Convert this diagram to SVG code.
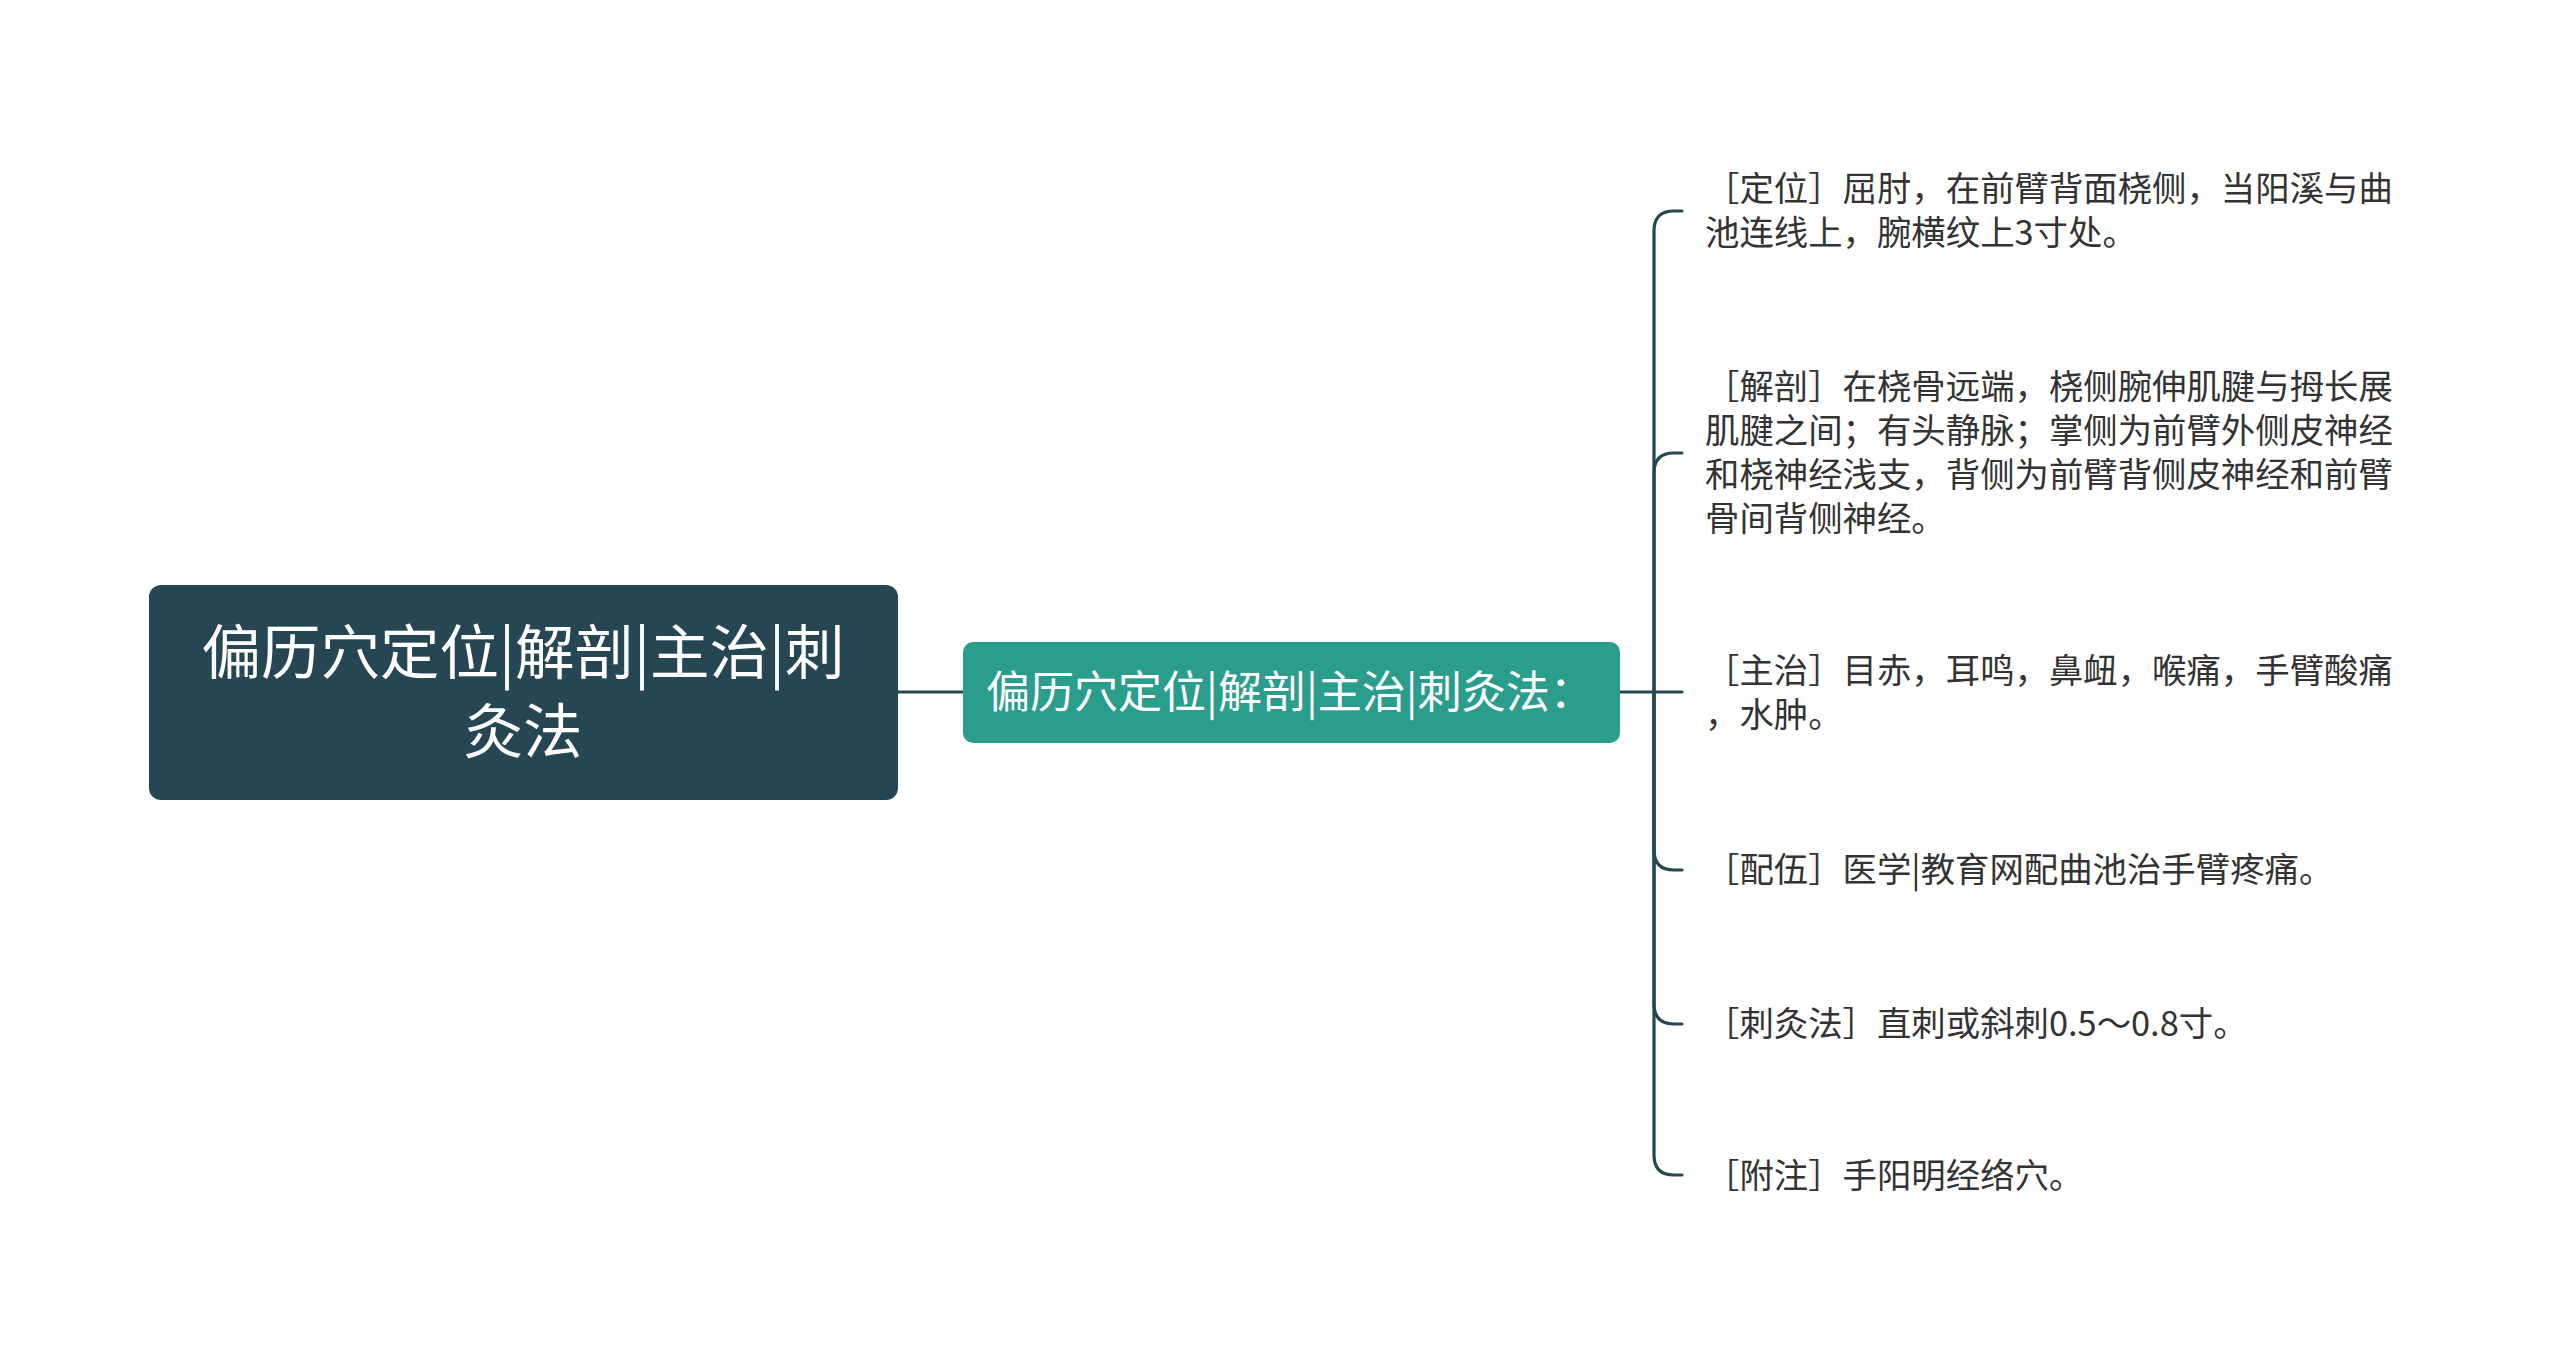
<svg xmlns="http://www.w3.org/2000/svg" width="2560" height="1363" viewBox="0 0 2560 1363">
<style>
.cjk{font-family:"Noto Sans CJK SC","Noto Sans",sans-serif;}
.root-box{fill:#274653;}
.mid-box{fill:#2a9d8c;}
.wt{fill:#ffffff;}
.item{fill:#333333;font-size:34.4px;}
.conn{fill:none;stroke:#274653;stroke-width:3.2;stroke-linecap:round;}
</style>
<rect width="2560" height="1363" fill="#ffffff"/>
<g id="connectors">
<path class="conn" d="M898,692 H963"/>
<path class="conn" d="M1620,692 H1654"/>
<path class="conn" d="M1654,692 V231 Q1654,211 1674,211 H1682"/>
<path class="conn" d="M1654,692 V473 Q1654,453 1674,453 H1682"/>
<path class="conn" d="M1654,692 H1682"/>
<path class="conn" d="M1654,692 V850 Q1654,870 1674,870 H1682"/>
<path class="conn" d="M1654,692 V1004 Q1654,1024 1674,1024 H1682"/>
<path class="conn" d="M1654,692 V1155 Q1654,1175 1674,1175 H1682"/>
</g>
<g id="root">
<rect class="root-box" x="149" y="585" width="749" height="215" rx="12"/>
<text class="cjk wt" font-size="59.5" text-anchor="middle"><tspan x="523" y="674">偏历穴定位|解剖|主治|刺</tspan><tspan x="523" y="753">灸法</tspan></text>
</g>
<g id="mid">
<rect class="mid-box" x="963" y="642" width="657" height="101" rx="10"/>
<text class="cjk wt" font-size="44" x="986" y="708">偏历穴定位|解剖|主治|刺灸法：</text>
</g>
<g id="item1">
<text class="cjk item"><tspan x="1705" y="201">［定位］屈肘，在前臂背面桡侧，当阳溪与曲</tspan><tspan x="1705" y="245">池连线上，腕横纹上3寸处。</tspan></text>
</g>
<g id="item2">
<text class="cjk item"><tspan x="1705" y="399">［解剖］在桡骨远端，桡侧腕伸肌腱与拇长展</tspan><tspan x="1705" y="443">肌腱之间；有头静脉；掌侧为前臂外侧皮神经</tspan><tspan x="1705" y="487">和桡神经浅支，背侧为前臂背侧皮神经和前臂</tspan><tspan x="1705" y="531">骨间背侧神经。</tspan></text>
</g>
<g id="item3">
<text class="cjk item"><tspan x="1705" y="683">［主治］目赤，耳鸣，鼻衄，喉痛，手臂酸痛</tspan><tspan x="1705" y="727">，水肿。</tspan></text>
</g>
<g id="item4">
<text class="cjk item" x="1705" y="882">［配伍］医学|教育网配曲池治手臂疼痛。</text>
</g>
<g id="item5">
<text class="cjk item" x="1705" y="1036">［刺灸法］直刺或斜刺0.5～0.8寸。</text>
</g>
<g id="item6">
<text class="cjk item" x="1705" y="1188">［附注］手阳明经络穴。</text>
</g>
</svg>
